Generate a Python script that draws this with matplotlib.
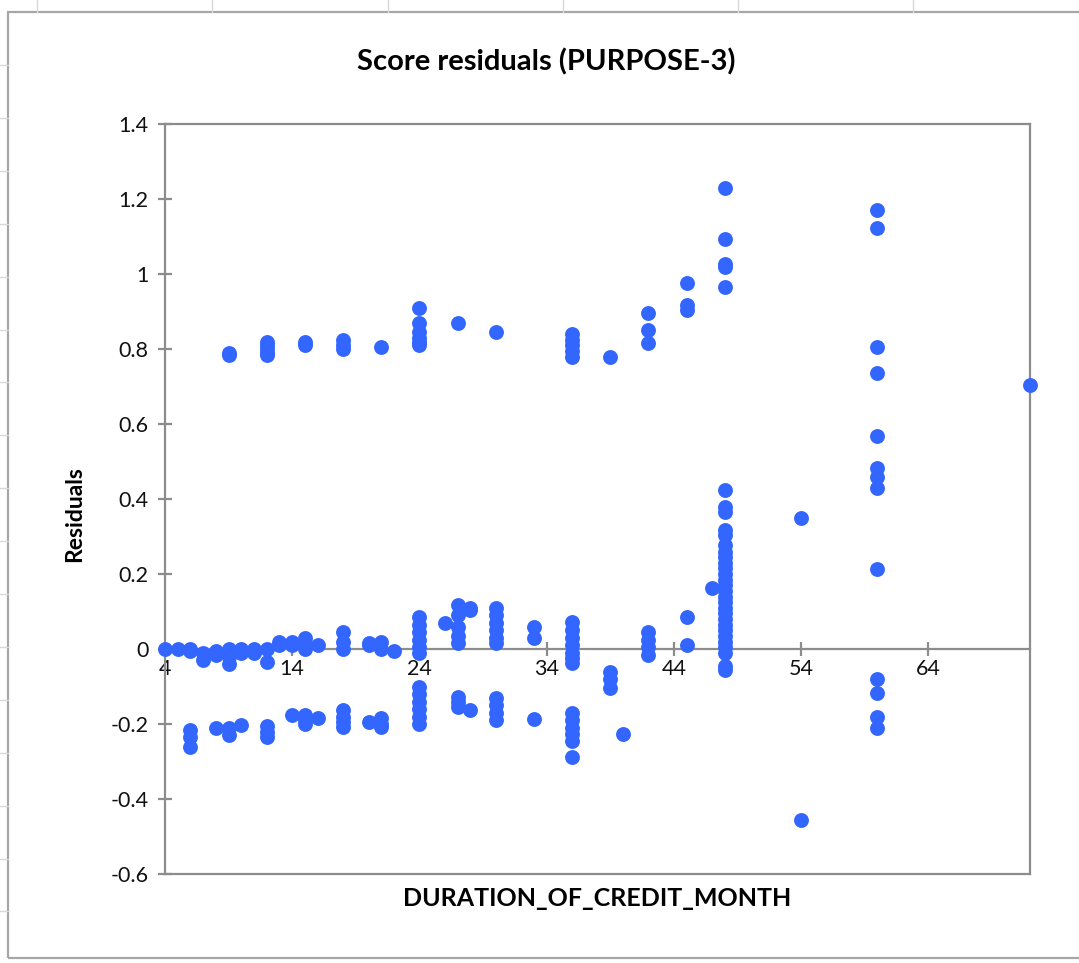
import matplotlib
matplotlib.use("Agg")
import matplotlib.pyplot as plt
from matplotlib.lines import Line2D
from matplotlib.patches import Rectangle

plt.rcParams['font.family'] = ['Lato', 'DejaVu Sans']

# Residuals, split in three bands (duration in months, residual)
upper_x = [9, 9, 12, 12, 12, 12, 12, 15, 15, 18, 18, 18, 21,
           24, 24, 24, 24, 24, 24, 27, 30, 36, 36, 36, 36, 36, 39,
           42, 42, 42, 45, 45, 45, 48, 48, 48, 48, 48,
           60, 60, 60, 60, 60, 60, 60, 60, 72]
upper_y = [0.79, 0.785, 0.82, 0.81, 0.80, 0.79, 0.785, 0.82, 0.81, 0.825, 0.81, 0.80, 0.805,
           0.91, 0.87, 0.845, 0.83, 0.82, 0.81, 0.87, 0.845, 0.84, 0.825, 0.81, 0.795, 0.78, 0.78,
           0.895, 0.85, 0.815, 0.975, 0.917, 0.904, 1.229, 1.093, 1.027, 1.018, 0.965,
           1.171, 1.122, 0.806, 0.737, 0.568, 0.483, 0.46, 0.43, 0.705]

mid_x = [4, 5, 6, 6, 7, 7, 8, 8, 9, 9, 9, 10, 10, 11, 11, 12, 12,
         13, 13, 14, 14, 15, 15, 15, 16, 18, 18, 18, 20, 20, 21, 21, 22,
         24, 24, 24, 24, 24, 24, 26, 27, 27, 27, 27, 27, 28, 28,
         30, 30, 30, 30, 30, 30, 33, 33, 36, 36, 36, 36, 36, 36, 36,
         39, 39, 39, 42, 42, 42, 42, 45, 45, 47,
         48, 48, 48, 48, 48, 48, 48, 48, 48, 48, 48, 48, 48, 48,
         48, 48, 48, 48, 48, 48, 48, 48, 48, 48, 48, 48, 48,
         54, 60]
mid_y = [0.0, 0.0, 0.0, -0.005, -0.01, -0.03, -0.005, -0.015, 0.0, -0.02, -0.04, 0.0, -0.01, 0.0, -0.01,
         0.0, -0.035, 0.02, 0.01, 0.02, 0.01, 0.03, 0.015, 0.0, 0.01, 0.045, 0.02, 0.0, 0.015, 0.01,
         0.02, 0.0, -0.005,
         0.085, 0.065, 0.045, 0.025, 0.005, -0.01, 0.07, 0.117, 0.09, 0.06, 0.035, 0.015, 0.104, 0.11,
         0.11, 0.09, 0.07, 0.05, 0.03, 0.015, 0.059, 0.029,
         0.072, 0.05, 0.03, 0.01, -0.01, -0.025, -0.038, -0.061, -0.08, -0.104,
         0.045, 0.025, 0.005, -0.016, 0.085, 0.011, 0.163,
         0.424, 0.379, 0.366, 0.317, 0.304, 0.277, 0.26, 0.245, 0.23, 0.215, 0.20, 0.185, 0.17, 0.155,
         0.14, 0.125, 0.11, 0.095, 0.08, 0.065, 0.05, 0.035, 0.02, 0.005, -0.01, -0.045, -0.056,
         0.349, 0.213]

lower_x = [6, 6, 6, 8, 9, 9, 10, 12, 12, 12, 14, 15, 15, 15, 16, 18, 18, 18, 18,
           20, 21, 21, 21, 24, 24, 24, 24, 24, 24, 27, 27, 27, 28,
           30, 30, 30, 30, 33, 36, 36, 36, 36, 36, 36, 40,
           54, 60, 60, 60, 60]
lower_y = [-0.215, -0.235, -0.26, -0.21, -0.21, -0.23, -0.203, -0.205, -0.22, -0.235,
           -0.176, -0.176, -0.19, -0.2, -0.185, -0.163, -0.18, -0.195, -0.207,
           -0.195, -0.185, -0.2, -0.207, -0.1, -0.12, -0.14, -0.16, -0.18, -0.2,
           -0.128, -0.14, -0.155, -0.163, -0.131, -0.15, -0.17, -0.19, -0.187,
           -0.171, -0.19, -0.21, -0.227, -0.245, -0.288, -0.227,
           -0.455, -0.08, -0.118, -0.18, -0.21]

x_ticks = [4, 14, 24, 34, 44, 54, 64]
y_ticks = [-0.6, -0.4, -0.2, 0, 0.2, 0.4, 0.6, 0.8, 1, 1.2, 1.4]
y_labels = ["-0.6", "-0.4", "-0.2", "0", "0.2", "0.4", "0.6", "0.8", "1", "1.2", "1.4"]

W, H = 1079, 963
grey = "#8c8c8c"
blue = "#3366ff"

fig = plt.figure(figsize=(W / 100, H / 100), dpi=100)

# spreadsheet cell lines peeking out around the chart object
for xp in [37, 212, 388, 563, 738, 913]:
    fig.add_artist(Line2D([xp / W, xp / W], [1, 1 - 12 / H], color="#d9d9d9", lw=1))
for k in range(17):
    yp = 65 + 52.9 * k
    fig.add_artist(Line2D([0, 8 / W], [1 - yp / H, 1 - yp / H], color="#d9d9d9", lw=1))
fig.add_artist(Rectangle((8 / W, 1 - 958 / H), 1.1, (958 - 12) / H, fill=False,
                         edgecolor="#a6a6a6", lw=1.6))

ax = fig.add_axes([165 / W, 1 - 874 / H, 865 / W, 750 / H])

ax.scatter(upper_x, upper_y, s=115, color=blue, linewidths=0, zorder=3, clip_on=False)
ax.scatter(mid_x, mid_y, s=115, color=blue, linewidths=0, zorder=3, clip_on=False)
ax.scatter(lower_x, lower_y, s=115, color=blue, linewidths=0, zorder=3, clip_on=False)

ax.set_xlim(4, 72)
ax.set_ylim(-0.6, 1.4)

# horizontal axis crosses at zero, like Excel
ax.spines['bottom'].set_position(('data', 0))
ax.axhline(-0.6, color=grey, lw=1.6, clip_on=False, zorder=2)
for side in ['left', 'right', 'top', 'bottom']:
    ax.spines[side].set_color(grey)
    ax.spines[side].set_linewidth(1.6)

ax.set_xticks(x_ticks)
ax.set_xticklabels([str(v) for v in x_ticks])
ax.set_yticks(y_ticks)
ax.set_yticklabels(y_labels)
ax.tick_params(axis='both', direction='inout', length=10, width=1.6, color=grey,
               labelsize=15.5, labelcolor="#111111")
ax.tick_params(axis='y', pad=7)
ax.tick_params(axis='x', pad=2)

ax.set_xlabel("DURATION_OF_CREDIT_MONTH", fontsize=18, fontweight='bold')
ax.xaxis.set_label_coords(0.5, (874 - 898) / 750, transform=ax.transAxes)
ax.xaxis.label.set_va('center')
ax.set_ylabel("Residuals", fontsize=16.5, fontweight='bold')
ax.yaxis.set_label_coords((75 - 165) / 865, (874 - 514) / 750)
ax.yaxis.label.set_va('center')
fig.text(546 / W, 1 - 62 / H, "Score residuals (PURPOSE-3)", fontsize=21,
         fontweight='bold', ha='center', va='center')

plt.savefig("out.png", dpi=100)
